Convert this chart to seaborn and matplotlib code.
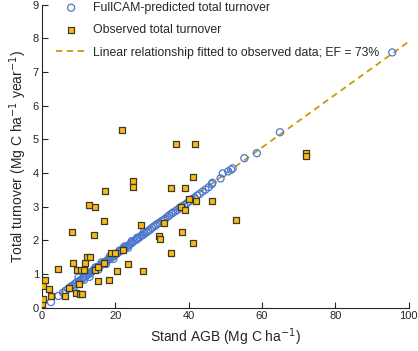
import numpy as np
import pandas as pd
import matplotlib
matplotlib.use("Agg")
import matplotlib.pyplot as plt
import seaborn as sns

# FullCAM-predicted total turnover (stand AGB, turnover)
pred_x = [2.5, 4.5, 5.8, 6.5, 7.2, 7.9, 8.4, 8.8, 9.0, 9.5, 10.0, 10.1, 10.5, 11.0,
          11.4, 11.5, 11.9, 12.3, 12.5, 12.8, 13.0, 13.2, 13.6, 14.0, 14.4, 14.6,
          14.9, 15.3, 15.5, 15.7, 16.1, 16.3, 16.6, 17.0, 17.4, 17.5, 17.9, 18.3,
          18.5, 18.8, 19.2, 19.5, 19.7, 20.1, 20.6, 21.0, 21.2, 21.5, 22.0, 22.4,
          22.5, 22.9, 23.3, 23.5, 23.8, 24.3, 24.5, 24.7, 25.2, 25.7, 26.0, 26.1,
          26.6, 27.1, 27.5, 27.8, 28.0, 28.5, 29.0, 29.5, 30.0, 30.5, 31.0, 31.5,
          32.0, 32.6, 33.1, 33.6, 34.2, 34.7, 35.3, 35.8, 36.4, 37.0, 37.6, 38.2,
          38.8, 39.5, 40.2, 40.9, 41.6, 42.3, 43.0, 43.8, 44.6, 45.5, 46.3, 46.5,
          48.7, 49.3, 50.8, 51.6, 52.0, 55.2, 58.6, 64.9, 95.5]
pred_y = [0.17, 0.35, 0.45, 0.51, 0.56, 0.63, 0.66, 0.62, 0.71, 0.75, 0.90, 0.79, 0.82, 0.86,
          0.90, 0.83, 0.94, 0.97, 1.05, 1.00, 0.92, 1.04, 1.07, 1.11, 1.13, 1.20,
          1.17, 1.21, 1.14, 1.24, 1.27, 1.35, 1.30, 1.34, 1.37, 1.30, 1.41, 1.44,
          1.52, 1.48, 1.51, 1.45, 1.55, 1.59, 1.62, 1.66, 1.70, 1.69, 1.73, 1.76,
          1.82, 1.80, 1.83, 1.78, 1.87, 1.91, 1.98, 1.94, 1.99, 2.02, 2.08, 2.05,
          2.09, 2.14, 2.16, 2.25, 2.20, 2.24, 2.28, 2.32, 2.37, 2.41, 2.45, 2.49,
          2.52, 2.57, 2.60, 2.64, 2.70, 2.74, 2.79, 2.83, 2.87, 2.91, 2.97, 3.01,
          3.05, 3.10, 3.16, 3.22, 3.27, 3.33, 3.38, 3.45, 3.51, 3.58, 3.67, 3.71,
          3.84, 3.99, 4.05, 4.10, 4.14, 4.44, 4.59, 5.21, 7.58]

# observed total turnover
obs_x = [0.1, 0.2, 0.4, 0.9, 2.0, 2.6, 4.5, 6.3, 7.3, 8.2, 8.4, 9.4, 9.5, 10.0,
         10.3, 10.9, 10.6, 11.5, 11.8, 12.3, 13.2, 12.9, 14.2, 14.4, 14.6, 15.3,
         15.3, 16.9, 17.0, 17.3, 18.3, 18.9, 20.0, 20.5, 21.8, 22.1, 23.4, 24.9,
         24.9, 27.0, 27.7, 31.8, 32.2, 33.2, 35.1, 35.2, 36.5, 37.8, 38.3, 39.0,
         39.0, 40.0, 41.1, 41.2, 41.7, 42.0, 46.5, 53.0, 71.9, 71.9]
obs_y = [0.10, 0.27, 0.64, 0.84, 0.56, 0.35, 1.14, 0.35, 0.60, 2.25, 1.34, 0.45, 1.12, 0.70,
         0.41, 0.41, 1.12, 1.12, 1.34, 1.50, 1.50, 3.05, 2.15, 1.12, 3.00, 1.22,
         0.80, 2.58, 1.32, 3.46, 0.84, 1.62, 1.64, 1.10, 5.28, 1.72, 1.30, 3.76,
         3.60, 2.46, 1.09, 2.13, 2.03, 2.51, 3.55, 1.62, 4.86, 3.00, 2.24, 2.90,
         3.57, 3.22, 1.93, 3.87, 4.87, 3.18, 3.17, 2.60, 4.60, 4.51]

# linear fit to observed data
fit_x = [0, 100]
fit_y = [0.05, 7.9]

sns.set_style("ticks")
plt.rcParams["font.family"] = ["Liberation Sans", "DejaVu Sans"]

fig = plt.figure(figsize=(4.18, 3.51), dpi=100)
ax = fig.add_axes([0.1, 0.123, 0.878, 0.864])

sns.lineplot(x=fit_x, y=fit_y, ax=ax, color="#c99a06", linestyle=(0, (3.5, 2.5)),
             linewidth=1.3, label="Linear relationship fitted to observed data; EF = 73%",
             zorder=2)
sns.scatterplot(x=pred_x, y=pred_y, ax=ax, marker="o", s=26, facecolor="none",
                edgecolor="#4a78cf", linewidth=0.9, label="FullCAM-predicted total turnover",
                zorder=3)
sns.scatterplot(x=obs_x, y=obs_y, ax=ax, marker="s", s=24, color="#fdb913",
                edgecolor="#3a3a2a", linewidth=0.9, label="Observed total turnover",
                zorder=4)

ax.set_xlim(0, 100)
ax.set_ylim(0, 9)
ax.set_xticks([0, 20, 40, 60, 80, 100])
ax.set_yticks(range(0, 10))
ax.tick_params(direction="in", length=4, width=0.8, labelsize=8, pad=2)
sns.despine(ax=ax)
for s in ["left", "bottom"]:
    ax.spines[s].set_linewidth(0.8)

ax.set_xlabel("Stand AGB (Mg C ha$^{-1}$)", fontsize=10, labelpad=4)
ax.set_ylabel("Total turnover (Mg C ha$^{-1}$ year$^{-1}$)", fontsize=10, labelpad=3)

h, l = ax.get_legend_handles_labels()
order = [1, 2, 0]
ax.legend([h[i] for i in order], [l[i] for i in order], loc="upper left",
          frameon=False, fontsize=8.8, bbox_to_anchor=(0.01, 1.045),
          handlelength=2.4, handletextpad=0.6, labelspacing=0.85)

fig.savefig("out.png", dpi=100)
